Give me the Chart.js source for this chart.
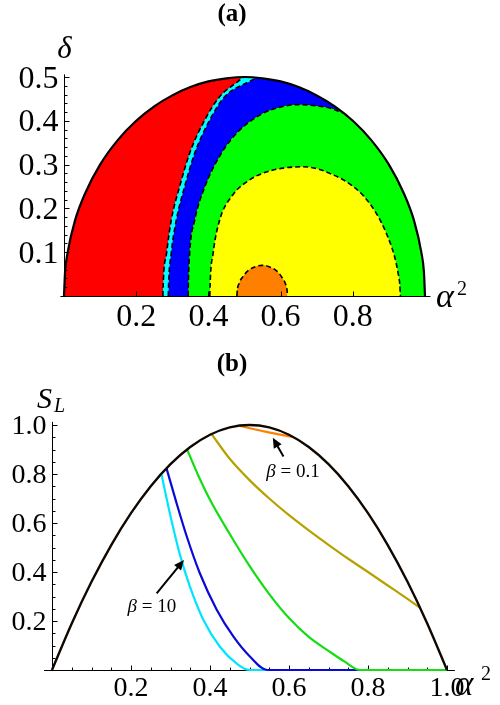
<!DOCTYPE html>
<html>
<head>
<meta charset="utf-8">
<script src="https://cdn.jsdelivr.net/npm/chart.js@4.4.0/dist/chart.umd.min.js"></script>
<style>
  html, body { margin: 0; padding: 0; background: #fff; }
  #wrap { position: relative; width: 500px; height: 705px; }
  canvas { position: absolute; left: 0; }
  #ca { top: 0; }
  #cb { top: 330px; }
</style>
</head>
<body>
<div id="wrap">
  <canvas id="ca" width="500" height="330"></canvas>
  <canvas id="cb" width="500" height="375"></canvas>
</div>
<script>
// ---- panel (a): regions in the (alpha^2, delta) plane ----
const aOuterX = [0, 0.003, 0.01, 0.03, 0.06, 0.1, 0.15, 0.2, 0.25, 0.3, 0.35, 0.4, 0.45, 0.5, 0.55, 0.6, 0.65, 0.7, 0.75, 0.8, 0.85, 0.9, 0.94, 0.97, 0.99, 0.997, 1];
const aOuterY = [0, 0.055, 0.099, 0.171, 0.237, 0.300, 0.357, 0.400, 0.433, 0.458, 0.477, 0.490, 0.497, 0.500, 0.497, 0.490, 0.477, 0.458, 0.433, 0.400, 0.357, 0.300, 0.237, 0.171, 0.099, 0.055, 0];

const aCyanX = [0.274, 0.2745, 0.284, 0.297, 0.320, 0.348, 0.390, 0.431, 0.482, 0.497];
const aCyanY = [0, 0.02, 0.097, 0.173, 0.249, 0.326, 0.402, 0.455, 0.490, 0.4999];

const aBlueX = [0.289, 0.2895, 0.297, 0.311, 0.334, 0.362, 0.404, 0.445, 0.514, 0.535];
const aBlueY = [0, 0.02, 0.097, 0.173, 0.249, 0.326, 0.402, 0.455, 0.490, 0.4988];

const aGreenX = [0.344, 0.3443, 0.348, 0.362, 0.390, 0.436, 0.487, 0.551, 0.598, 0.65, 0.70, 0.736, 0.773];
const aGreenY = [0, 0.02, 0.097, 0.173, 0.249, 0.326, 0.379, 0.417, 0.431, 0.437, 0.434, 0.429, 0.418];

const aYellowX = [0.404, 0.4045, 0.413, 0.431, 0.464, 0.514, 0.560, 0.607, 0.662, 0.70, 0.736, 0.782, 0.828, 0.865, 0.893, 0.916, 0.926, 0.930, 0.932];
const aYellowY = [0, 0.02, 0.097, 0.173, 0.227, 0.265, 0.283, 0.292, 0.295, 0.291, 0.280, 0.261, 0.230, 0.189, 0.143, 0.089, 0.05, 0.028, 0];

const aOrangeX = [0.479, 0.4795, 0.485, 0.495, 0.51, 0.53, 0.549, 0.568, 0.588, 0.603, 0.613, 0.6185, 0.619];
const aOrangeY = [0, 0.008, 0.0285, 0.0435, 0.058, 0.067, 0.070, 0.067, 0.058, 0.0435, 0.0285, 0.008, 0];

const aXTicks = [0.2, 0.4, 0.6, 0.8];
const aYTicks = [0.1, 0.2, 0.3, 0.4, 0.5];
const aYMinor = [0.02, 0.04, 0.06, 0.08, 0.12, 0.14, 0.16, 0.18, 0.22, 0.24, 0.26, 0.28, 0.32, 0.34, 0.36, 0.38, 0.42, 0.44, 0.46, 0.48];

// ---- panel (b): S_L against alpha^2 ----
const bBlackX = [0, 0.05, 0.1, 0.15, 0.2, 0.25, 0.3, 0.35, 0.4, 0.45, 0.5, 0.55, 0.6, 0.65, 0.7, 0.75, 0.8, 0.85, 0.9, 0.95, 1];
const bBlackY = [0, 0.19, 0.36, 0.51, 0.64, 0.75, 0.84, 0.91, 0.96, 0.99, 1.0, 0.99, 0.96, 0.91, 0.84, 0.75, 0.64, 0.51, 0.36, 0.19, 0];

const bCyanX = [0.277, 0.298, 0.324, 0.349, 0.383, 0.425, 0.467, 0.50, 1.0];
const bCyanY = [0.80, 0.642, 0.470, 0.341, 0.205, 0.095, 0.027, 0, 0];

const bBlueX = [0.290, 0.315, 0.341, 0.374, 0.417, 0.459, 0.501, 0.545, 1.0];
const bBlueY = [0.823, 0.683, 0.546, 0.396, 0.246, 0.137, 0.055, 0, 0];

const bGreenX = [0.342, 0.37, 0.40, 0.45, 0.50, 0.55, 0.60, 0.65, 0.70, 0.74, 0.78, 1.0];
const bGreenY = [0.90, 0.795, 0.695, 0.555, 0.425, 0.310, 0.212, 0.135, 0.078, 0.035, 0, 0];

const bOliveX = [0.404, 0.45, 0.50, 0.55, 0.60, 0.65, 0.70, 0.75, 0.80, 0.85, 0.90, 0.932];
const bOliveY = [0.963, 0.862, 0.775, 0.700, 0.632, 0.570, 0.511, 0.454, 0.400, 0.345, 0.290, 0.254];

const bOrangeX = [0.476, 0.543, 0.611];
const bOrangeY = [0.996, 0.972, 0.951];

const bXTicks = [0.2, 0.4, 0.6, 0.8, 1.0];
const bXMinor = [0.05, 0.1, 0.15, 0.25, 0.3, 0.35, 0.45, 0.5, 0.55, 0.65, 0.7, 0.75, 0.85, 0.9, 0.95];
const bYTicks = [0.2, 0.4, 0.6, 0.8, 1.0];
const bYMinor = [0.05, 0.1, 0.15, 0.25, 0.3, 0.35, 0.45, 0.5, 0.55, 0.65, 0.7, 0.75, 0.85, 0.9, 0.95];

// arrow notes in panel (b), in data units
const bNotes = [
  { label: '0.1', tip: [0.559, 0.948], tail: [0.586, 0.871], at: [0.610, 0.786] },
  { label: '10',  tip: [0.334, 0.449], tail: [0.265, 0.313], at: [0.253, 0.238] }
];

const SERIF = '"Liberation Serif", "DejaVu Serif", serif';

function pts(xs, ys) {
  return xs.map((x, i) => ({ x: x, y: ys[i] }));
}

// boundary followed by the rest of the outer arc
function withOuter(xs, ys) {
  const last = xs[xs.length - 1];
  return pts(xs, ys).concat(pts(aOuterX, aOuterY).filter(p => p.x > last));
}

function region(data, color, order) {
  return { data: data, fill: 'origin', backgroundColor: color, borderColor: 'transparent',
    borderWidth: 0, pointRadius: 0, cubicInterpolationMode: 'monotone', order: order };
}

function curve(data, color, width, order, dash) {
  return { data: data, fill: false, borderColor: color, borderWidth: width, borderDash: dash || [],
    pointRadius: 0, cubicInterpolationMode: 'monotone', order: order, clip: false };
}

// Mathematica style axes: lines through the origin, ticks pointing inward
function drawAxes(chart, o) {
  const ctx = chart.ctx, xs = chart.scales.x, ys = chart.scales.y;
  const x0 = Math.round(xs.getPixelForValue(0)) + 0.5;
  const y0 = Math.round(ys.getPixelForValue(0)) + 0.5;
  ctx.save();
  ctx.strokeStyle = '#000';
  ctx.lineWidth = 1;
  ctx.beginPath();
  ctx.moveTo(xs.getPixelForValue(o.xLine[0]), y0);
  ctx.lineTo(xs.getPixelForValue(o.xLine[1]), y0);
  ctx.moveTo(x0, ys.getPixelForValue(o.yLine[0]));
  ctx.lineTo(x0, ys.getPixelForValue(o.yLine[1]));
  o.xTicks.forEach(v => { const p = Math.round(xs.getPixelForValue(v)) + 0.5; ctx.moveTo(p, y0); ctx.lineTo(p, y0 - 5); });
  (o.xMinor || []).forEach(v => { const p = Math.round(xs.getPixelForValue(v)) + 0.5; ctx.moveTo(p, y0); ctx.lineTo(p, y0 - 3); });
  o.yTicks.forEach(v => { const p = Math.round(ys.getPixelForValue(v)) + 0.5; ctx.moveTo(x0, p); ctx.lineTo(x0 + 5, p); });
  (o.yMinor || []).forEach(v => { const p = Math.round(ys.getPixelForValue(v)) + 0.5; ctx.moveTo(x0, p); ctx.lineTo(x0 + 3, p); });
  ctx.stroke();

  ctx.fillStyle = '#000';
  ctx.font = o.font;
  ctx.textBaseline = 'alphabetic';
  ctx.textAlign = 'center';
  o.xTicks.forEach(v => ctx.fillText(v.toFixed(1), xs.getPixelForValue(v), y0 + o.xLabelDy));
  ctx.textAlign = 'right';
  o.yTicks.forEach(v => ctx.fillText(v.toFixed(1), x0 - o.yLabelGap, ys.getPixelForValue(v) + o.yLabelDy));
  ctx.restore();
}

function text(ctx, s, font, x, y, align) {
  ctx.font = font;
  ctx.textAlign = align || 'left';
  ctx.textBaseline = 'alphabetic';
  ctx.fillText(s, x, y);
}

function arrow(ctx, x1, y1, x2, y2) {
  const a = Math.atan2(y2 - y1, x2 - x1), L = 10, W = 4.5;
  const bx = x2 - L * Math.cos(a), by = y2 - L * Math.sin(a);
  ctx.beginPath();
  ctx.lineWidth = 2;
  ctx.moveTo(x1, y1);
  ctx.lineTo(bx + 2 * Math.cos(a), by + 2 * Math.sin(a));
  ctx.stroke();
  ctx.beginPath();
  ctx.moveTo(x2, y2);
  ctx.lineTo(bx + W * Math.sin(a), by - W * Math.cos(a));
  ctx.lineTo(bx - W * Math.sin(a), by + W * Math.cos(a));
  ctx.closePath();
  ctx.fill();
}

const baseOptions = (pad, yMax) => ({
  responsive: false,
  animation: false,
  devicePixelRatio: 1,
  layout: { padding: pad },
  plugins: { legend: { display: false }, tooltip: { enabled: false } },
  scales: {
    x: { type: 'linear', min: 0, max: 1, display: false },
    y: { type: 'linear', min: 0, max: yMax, display: false }
  }
});

// ---------- chart (a) ----------
const axesA = {
  id: 'axesA',
  afterDatasetsDraw(chart) {
    drawAxes(chart, {
      xLine: [-0.01, 1.015], yLine: [0, 0.506],
      xTicks: aXTicks, yTicks: aYTicks, yMinor: aYMinor,
      font: '32px ' + SERIF, xLabelDy: 29, yLabelGap: 6, yLabelDy: 10.5
    });
    const ctx = chart.ctx;
    ctx.save();
    ctx.fillStyle = '#000';
    text(ctx, '(a)', 'bold 25px ' + SERIF, 232, 21, 'center');
    text(ctx, 'δ', 'italic 31px ' + SERIF, 64.5, 58, 'center');
    text(ctx, 'α', 'italic 34px ' + SERIF, 436, 307);
    text(ctx, '2', '20px ' + SERIF, 457, 295);
    ctx.restore();
  }
};

const DASH = [5, 3];

new Chart(document.getElementById('ca').getContext('2d'), {
  type: 'line',
  data: {
    datasets: [
      region(pts(aOuterX, aOuterY), '#ff0000', 20),
      region(withOuter(aCyanX, aCyanY), '#00ffff', 19),
      region(withOuter(aBlueX, aBlueY), '#0000ff', 18),
      region(withOuter(aGreenX, aGreenY), '#00ff00', 17),
      region(pts(aYellowX, aYellowY), '#ffff00', 16),
      region(pts(aOrangeX, aOrangeY), '#ff8000', 15),
      curve(pts(aCyanX, aCyanY), '#000', 1.6, 6, DASH),
      curve(pts(aBlueX, aBlueY), '#000', 1.6, 6, DASH),
      curve(pts(aGreenX, aGreenY), '#000', 1.6, 6, DASH),
      curve(pts(aYellowX, aYellowY), '#000', 1.6, 6, DASH),
      curve(pts(aOrangeX, aOrangeY), '#000', 1.6, 6, DASH),
      curve(pts(aOuterX, aOuterY), '#000', 2.2, 1)
    ]
  },
  options: baseOptions({ left: 64, right: 75, top: 77, bottom: 34 }, 0.5),
  plugins: [axesA]
});

// ---------- chart (b) ----------
const axesB = {
  id: 'axesB',
  beforeDatasetsDraw(chart) {
    drawAxes(chart, {
      xLine: [-0.02, 1.02], yLine: [0, 1.013],
      xTicks: bXTicks, xMinor: bXMinor, yTicks: bYTicks, yMinor: bYMinor,
      font: '28px ' + SERIF, xLabelDy: 25, yLabelGap: 6, yLabelDy: 9
    });
  },
  afterDatasetsDraw(chart) {
    const ctx = chart.ctx, xs = chart.scales.x, ys = chart.scales.y;
    ctx.save();
    ctx.fillStyle = '#000';
    ctx.strokeStyle = '#000';
    text(ctx, '(b)', 'bold 25px ' + SERIF, 232, 41, 'center');
    text(ctx, 'S', 'italic 30px ' + SERIF, 37, 78);
    text(ctx, 'L', 'italic 20px ' + SERIF, 54, 82);
    text(ctx, 'α', 'italic 35px ' + SERIF, 455, 365);
    text(ctx, '2', '20px ' + SERIF, 481, 350);
    bNotes.forEach(n => {
      arrow(ctx, xs.getPixelForValue(n.tail[0]), ys.getPixelForValue(n.tail[1]),
                 xs.getPixelForValue(n.tip[0]), ys.getPixelForValue(n.tip[1]));
      const f1 = 'italic 19px ' + SERIF, f2 = '19px ' + SERIF;
      ctx.font = f1; const w1 = ctx.measureText('β').width;
      ctx.font = f2; const w2 = ctx.measureText(' = ' + n.label).width;
      const cx = xs.getPixelForValue(n.at[0]), by = ys.getPixelForValue(n.at[1]);
      const left = cx - (w1 + w2) / 2;
      text(ctx, 'β', f1, left, by);
      text(ctx, ' = ' + n.label, f2, left + w1, by);
    });
    ctx.restore();
  }
};

new Chart(document.getElementById('cb').getContext('2d'), {
  type: 'line',
  data: {
    datasets: [
      curve(pts(bCyanX, bCyanY), '#00e5ff', 2.2, 6),
      curve(pts(bBlueX, bBlueY), '#0a0ad8', 2.2, 5),
      curve(pts(bGreenX, bGreenY), '#14dd14', 2.2, 4),
      curve(pts(bOliveX, bOliveY), '#b5a200', 2.2, 3),
      curve(pts(bOrangeX, bOrangeY), '#ff7f00', 2.2, 2),
      curve(pts(bBlackX, bBlackY), '#100800', 2.4, 1)
    ]
  },
  options: baseOptions({ left: 52, right: 53, top: 95, bottom: 35 }, 1),
  plugins: [axesB]
});
</script>
</body>
</html>
